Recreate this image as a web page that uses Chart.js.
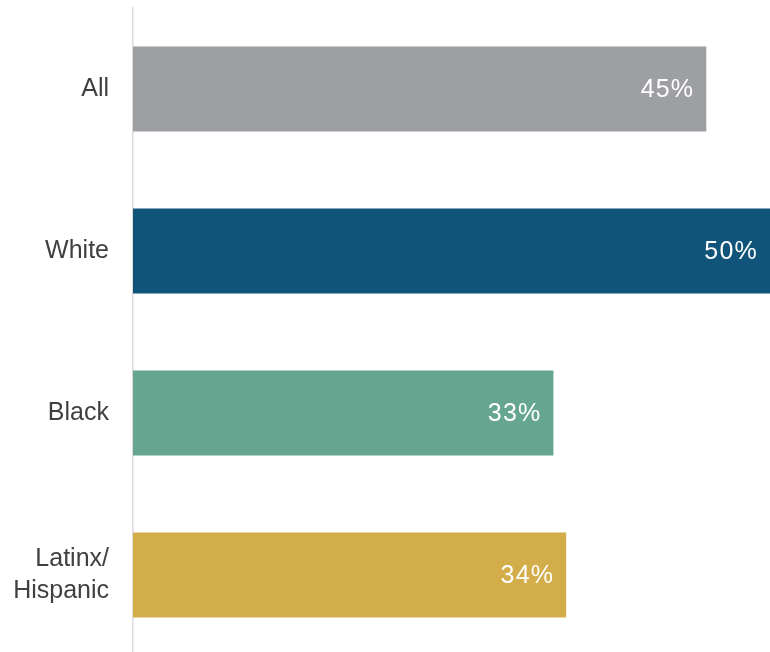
<!DOCTYPE html>
<html>
<head>
<meta charset="utf-8">
<script src="https://cdn.jsdelivr.net/npm/chart.js@4/dist/chart.umd.min.js"></script>
<style>
  html, body { margin: 0; padding: 0; background: #fff; overflow: hidden; }
  #wrap { position: relative; width: 770px; height: 656px; }
</style>
</head>
<body>
<div id="wrap"><canvas id="c"></canvas></div>
<script>
const categories = ['All', 'White', 'Black', ['Latinx/', 'Hispanic']];
const values = [45, 50, 33, 34];
const valueLabels = ['45%', '50%', '33%', '34%'];
const barColors = ['#9e9fa3', '#11547a', '#66a690', '#d4ad4b'];

const FONT = '"Liberation Sans", Arial, Helvetica, sans-serif';

const valueLabelPlugin = {
  id: 'valueLabels',
  afterDatasetsDraw(chart) {
    const ctx = chart.ctx;
    const meta = chart.getDatasetMeta(0);
    ctx.save();
    ctx.font = '25px ' + FONT;
    if ('letterSpacing' in ctx) ctx.letterSpacing = '1.2px';
    ctx.fillStyle = '#ffffff';
    ctx.textAlign = 'right';
    ctx.textBaseline = 'middle';
    meta.data.forEach((bar, i) => {
      ctx.fillText(valueLabels[i], bar.x - 12, bar.y + 1);
    });
    ctx.restore();
  }
};

new Chart(document.getElementById('c'), {
  type: 'bar',
  data: {
    labels: categories,
    datasets: [{
      data: values,
      backgroundColor: barColors,
      borderWidth: 0,
      categoryPercentage: 1,
      barPercentage: 0.525
    }]
  },
  options: {
    indexAxis: 'y',
    responsive: true,
    maintainAspectRatio: false,
    animation: false,
    layout: { padding: { top: 8, right: 0, bottom: 0, left: 0 } },
    plugins: {
      legend: { display: false },
      tooltip: { enabled: false }
    },
    scales: {
      x: {
        min: 0,
        max: 50,
        display: false,
        grid: { display: false }
      },
      y: {
        grid: { display: true, color: 'rgba(0,0,0,0)', drawTicks: false },
        border: { display: true, color: '#dcdcdc', width: 1.5 },
        ticks: {
          padding: 24,
          color: '#404040',
          font: { family: FONT, size: 25, lineHeight: 1.28 }
        },
        afterFit(scale) {
          scale.width = 133;
          scale.paddingTop = 0;
          scale.paddingBottom = 0;
        }
      }
    }
  },
  plugins: [valueLabelPlugin]
});
</script>
</body>
</html>
